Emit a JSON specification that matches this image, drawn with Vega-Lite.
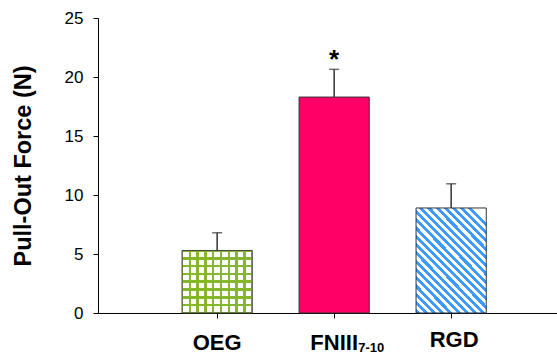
{
  "$schema": "https://vega.github.io/schema/vega-lite/v6.json",
  "width": 459,
  "height": 295,
  "autosize": {"type": "none"},
  "padding": {"left": 98, "top": 18, "right": 0, "bottom": 43},
  "config": {
    "font": "Liberation Sans",
    "view": {"stroke": null},
    "axis": {"grid": false, "domainColor": "#000", "tickColor": "#000", "labelColor": "#000", "titleColor": "#000"}
  },
  "data": {
    "values": [
      {"group": "OEG", "mean": 5.3, "upper": 6.8, "sig": "", "sub": ""},
      {"group": "FNIII", "mean": 18.3, "upper": 20.65, "sig": "*", "sub": "7-10"},
      {"group": "RGD", "mean": 8.9, "upper": 10.95, "sig": "", "sub": ""}
    ]
  },
  "encoding": {
    "x": {
      "field": "group",
      "type": "nominal",
      "sort": null,
      "scale": {"type": "band", "domain": ["OEG", "FNIII", "RGD"], "paddingInner": 0.4, "paddingOuter": 0.6615, "align": 0.543},
      "axis": {"title": null, "labelAngle": 0, "labelFontSize": 22, "labelFontWeight": "bold",
        "labelPadding": {"condition": {"test": "datum.value === 'RGD'", "value": 11}, "value": 14},
        "labelOffset": {"condition": {"test": "datum.value === 'RGD'", "value": 3}, "value": 0},
        "tickSize": 5, "domainWidth": 1}
    }
  },
  "layer": [
    {
      "transform": [{"filter": "datum.group === 'OEG'"}],
      "mark": {"type": "bar", "strokeWidth": 0, "fill": {
        "gradient": "linear", "x1": 0, "y1": 0, "x2": 0, "y2": 1,
        "stops": [
          {"offset": 0, "color": "#86b52e"}, {"offset": 0.02, "color": "#86b52e"}, {"offset": 0.02, "color": "#ffffff"}, {"offset": 0.105, "color": "#ffffff"},
          {"offset": 0.105, "color": "#86b52e"}, {"offset": 0.145, "color": "#86b52e"}, {"offset": 0.145, "color": "#ffffff"}, {"offset": 0.23, "color": "#ffffff"},
          {"offset": 0.23, "color": "#86b52e"}, {"offset": 0.27, "color": "#86b52e"}, {"offset": 0.27, "color": "#ffffff"}, {"offset": 0.355, "color": "#ffffff"},
          {"offset": 0.355, "color": "#86b52e"}, {"offset": 0.395, "color": "#86b52e"}, {"offset": 0.395, "color": "#ffffff"}, {"offset": 0.48, "color": "#ffffff"},
          {"offset": 0.48, "color": "#86b52e"}, {"offset": 0.52, "color": "#86b52e"}, {"offset": 0.52, "color": "#ffffff"}, {"offset": 0.605, "color": "#ffffff"},
          {"offset": 0.605, "color": "#86b52e"}, {"offset": 0.645, "color": "#86b52e"}, {"offset": 0.645, "color": "#ffffff"}, {"offset": 0.73, "color": "#ffffff"},
          {"offset": 0.73, "color": "#86b52e"}, {"offset": 0.77, "color": "#86b52e"}, {"offset": 0.77, "color": "#ffffff"}, {"offset": 0.855, "color": "#ffffff"},
          {"offset": 0.855, "color": "#86b52e"}, {"offset": 0.895, "color": "#86b52e"}, {"offset": 0.895, "color": "#ffffff"}, {"offset": 0.98, "color": "#ffffff"},
          {"offset": 0.98, "color": "#86b52e"}, {"offset": 1, "color": "#86b52e"}
        ]}},
      "encoding": {
        "y": {"field": "mean", "type": "quantitative", "scale": {"domain": [0, 25], "nice": false},
          "axis": {"title": "Pull-Out Force (N)", "titleFontSize": 23.5, "titleFontWeight": "bold", "titlePadding": 29,
            "values": [0, 5, 10, 15, 20, 25], "labelFontSize": 17, "labelPadding": 10, "tickSize": 5}}
      }
    },
    {
      "transform": [{"filter": "datum.group === 'OEG'"}],
      "mark": {"type": "bar", "stroke": "#444", "strokeWidth": 1, "fill": {
        "gradient": "linear", "x1": 0, "y1": 0, "x2": 1, "y2": 0,
        "stops": [
          {"offset": 0, "color": "#86b52e"}, {"offset": 0.017, "color": "#86b52e"}, {"offset": 0.017, "color": "rgba(255,255,255,0)"}, {"offset": 0.094, "color": "rgba(255,255,255,0)"},
          {"offset": 0.094, "color": "#86b52e"}, {"offset": 0.128, "color": "#86b52e"}, {"offset": 0.128, "color": "rgba(255,255,255,0)"}, {"offset": 0.205, "color": "rgba(255,255,255,0)"},
          {"offset": 0.205, "color": "#86b52e"}, {"offset": 0.239, "color": "#86b52e"}, {"offset": 0.239, "color": "rgba(255,255,255,0)"}, {"offset": 0.316, "color": "rgba(255,255,255,0)"},
          {"offset": 0.316, "color": "#86b52e"}, {"offset": 0.35, "color": "#86b52e"}, {"offset": 0.35, "color": "rgba(255,255,255,0)"}, {"offset": 0.427, "color": "rgba(255,255,255,0)"},
          {"offset": 0.427, "color": "#86b52e"}, {"offset": 0.461, "color": "#86b52e"}, {"offset": 0.461, "color": "rgba(255,255,255,0)"}, {"offset": 0.539, "color": "rgba(255,255,255,0)"},
          {"offset": 0.539, "color": "#86b52e"}, {"offset": 0.573, "color": "#86b52e"}, {"offset": 0.573, "color": "rgba(255,255,255,0)"}, {"offset": 0.65, "color": "rgba(255,255,255,0)"},
          {"offset": 0.65, "color": "#86b52e"}, {"offset": 0.684, "color": "#86b52e"}, {"offset": 0.684, "color": "rgba(255,255,255,0)"}, {"offset": 0.761, "color": "rgba(255,255,255,0)"},
          {"offset": 0.761, "color": "#86b52e"}, {"offset": 0.795, "color": "#86b52e"}, {"offset": 0.795, "color": "rgba(255,255,255,0)"}, {"offset": 0.872, "color": "rgba(255,255,255,0)"},
          {"offset": 0.872, "color": "#86b52e"}, {"offset": 0.906, "color": "#86b52e"}, {"offset": 0.906, "color": "rgba(255,255,255,0)"}, {"offset": 0.983, "color": "rgba(255,255,255,0)"},
          {"offset": 0.983, "color": "#86b52e"}, {"offset": 1, "color": "#86b52e"}
        ]}},
      "encoding": {"y": {"field": "mean", "type": "quantitative"}}
    },
    {
      "transform": [{"filter": "datum.group === 'FNIII'"}],
      "mark": {"type": "bar", "fill": "#ff0066", "stroke": "#333", "strokeWidth": 1},
      "encoding": {"y": {"field": "mean", "type": "quantitative"}}
    },
    {
      "transform": [{"filter": "datum.group === 'RGD'"}],
      "mark": {"type": "bar", "stroke": "#333", "strokeWidth": 1, "fill": {
        "gradient": "linear", "x1": 0, "y1": 1, "x2": 0.732, "y2": -0.083,
        "stops": [
          {"offset": 0, "color": "#3d9bff"}, {"offset": 0.025, "color": "#3d9bff"}, {"offset": 0.025, "color": "#ffffff"}, {"offset": 0.05, "color": "#ffffff"},
          {"offset": 0.05, "color": "#3d9bff"}, {"offset": 0.075, "color": "#3d9bff"}, {"offset": 0.075, "color": "#ffffff"}, {"offset": 0.1, "color": "#ffffff"},
          {"offset": 0.1, "color": "#3d9bff"}, {"offset": 0.125, "color": "#3d9bff"}, {"offset": 0.125, "color": "#ffffff"}, {"offset": 0.15, "color": "#ffffff"},
          {"offset": 0.15, "color": "#3d9bff"}, {"offset": 0.175, "color": "#3d9bff"}, {"offset": 0.175, "color": "#ffffff"}, {"offset": 0.2, "color": "#ffffff"},
          {"offset": 0.2, "color": "#3d9bff"}, {"offset": 0.225, "color": "#3d9bff"}, {"offset": 0.225, "color": "#ffffff"}, {"offset": 0.25, "color": "#ffffff"},
          {"offset": 0.25, "color": "#3d9bff"}, {"offset": 0.275, "color": "#3d9bff"}, {"offset": 0.275, "color": "#ffffff"}, {"offset": 0.3, "color": "#ffffff"},
          {"offset": 0.3, "color": "#3d9bff"}, {"offset": 0.325, "color": "#3d9bff"}, {"offset": 0.325, "color": "#ffffff"}, {"offset": 0.35, "color": "#ffffff"},
          {"offset": 0.35, "color": "#3d9bff"}, {"offset": 0.375, "color": "#3d9bff"}, {"offset": 0.375, "color": "#ffffff"}, {"offset": 0.4, "color": "#ffffff"},
          {"offset": 0.4, "color": "#3d9bff"}, {"offset": 0.425, "color": "#3d9bff"}, {"offset": 0.425, "color": "#ffffff"}, {"offset": 0.45, "color": "#ffffff"},
          {"offset": 0.45, "color": "#3d9bff"}, {"offset": 0.475, "color": "#3d9bff"}, {"offset": 0.475, "color": "#ffffff"}, {"offset": 0.5, "color": "#ffffff"},
          {"offset": 0.5, "color": "#3d9bff"}, {"offset": 0.525, "color": "#3d9bff"}, {"offset": 0.525, "color": "#ffffff"}, {"offset": 0.55, "color": "#ffffff"},
          {"offset": 0.55, "color": "#3d9bff"}, {"offset": 0.575, "color": "#3d9bff"}, {"offset": 0.575, "color": "#ffffff"}, {"offset": 0.6, "color": "#ffffff"},
          {"offset": 0.6, "color": "#3d9bff"}, {"offset": 0.625, "color": "#3d9bff"}, {"offset": 0.625, "color": "#ffffff"}, {"offset": 0.65, "color": "#ffffff"},
          {"offset": 0.65, "color": "#3d9bff"}, {"offset": 0.675, "color": "#3d9bff"}, {"offset": 0.675, "color": "#ffffff"}, {"offset": 0.7, "color": "#ffffff"},
          {"offset": 0.7, "color": "#3d9bff"}, {"offset": 0.725, "color": "#3d9bff"}, {"offset": 0.725, "color": "#ffffff"}, {"offset": 0.75, "color": "#ffffff"},
          {"offset": 0.75, "color": "#3d9bff"}, {"offset": 0.775, "color": "#3d9bff"}, {"offset": 0.775, "color": "#ffffff"}, {"offset": 0.8, "color": "#ffffff"},
          {"offset": 0.8, "color": "#3d9bff"}, {"offset": 0.825, "color": "#3d9bff"}, {"offset": 0.825, "color": "#ffffff"}, {"offset": 0.85, "color": "#ffffff"},
          {"offset": 0.85, "color": "#3d9bff"}, {"offset": 0.875, "color": "#3d9bff"}, {"offset": 0.875, "color": "#ffffff"}, {"offset": 0.9, "color": "#ffffff"},
          {"offset": 0.9, "color": "#3d9bff"}, {"offset": 0.925, "color": "#3d9bff"}, {"offset": 0.925, "color": "#ffffff"}, {"offset": 0.95, "color": "#ffffff"},
          {"offset": 0.95, "color": "#3d9bff"}, {"offset": 0.975, "color": "#3d9bff"}, {"offset": 0.975, "color": "#ffffff"}, {"offset": 1, "color": "#ffffff"}
        ]}},
      "encoding": {"y": {"field": "mean", "type": "quantitative"}}
    },
    {
      "mark": {"type": "rule", "color": "#333", "strokeWidth": 1.5},
      "encoding": {"y": {"field": "mean", "type": "quantitative"}, "y2": {"field": "upper"}}
    },
    {
      "mark": {"type": "tick", "color": "#333", "thickness": 1.5, "size": 10, "orient": "horizontal"},
      "encoding": {"y": {"field": "upper", "type": "quantitative"}}
    },
    {
      "mark": {"type": "text", "fontSize": 26, "fontWeight": "bold", "baseline": "alphabetic", "dy": -1, "color": "#000"},
      "encoding": {"y": {"field": "upper", "type": "quantitative"}, "text": {"field": "sig"}}
    },
    {
      "mark": {"type": "text", "fontSize": 13, "fontWeight": "bold", "baseline": "alphabetic", "align": "left", "dx": 24, "dy": 39, "color": "#000"},
      "encoding": {"y": {"datum": 0, "type": "quantitative"}, "text": {"field": "sub"}}
    }
  ]
}
